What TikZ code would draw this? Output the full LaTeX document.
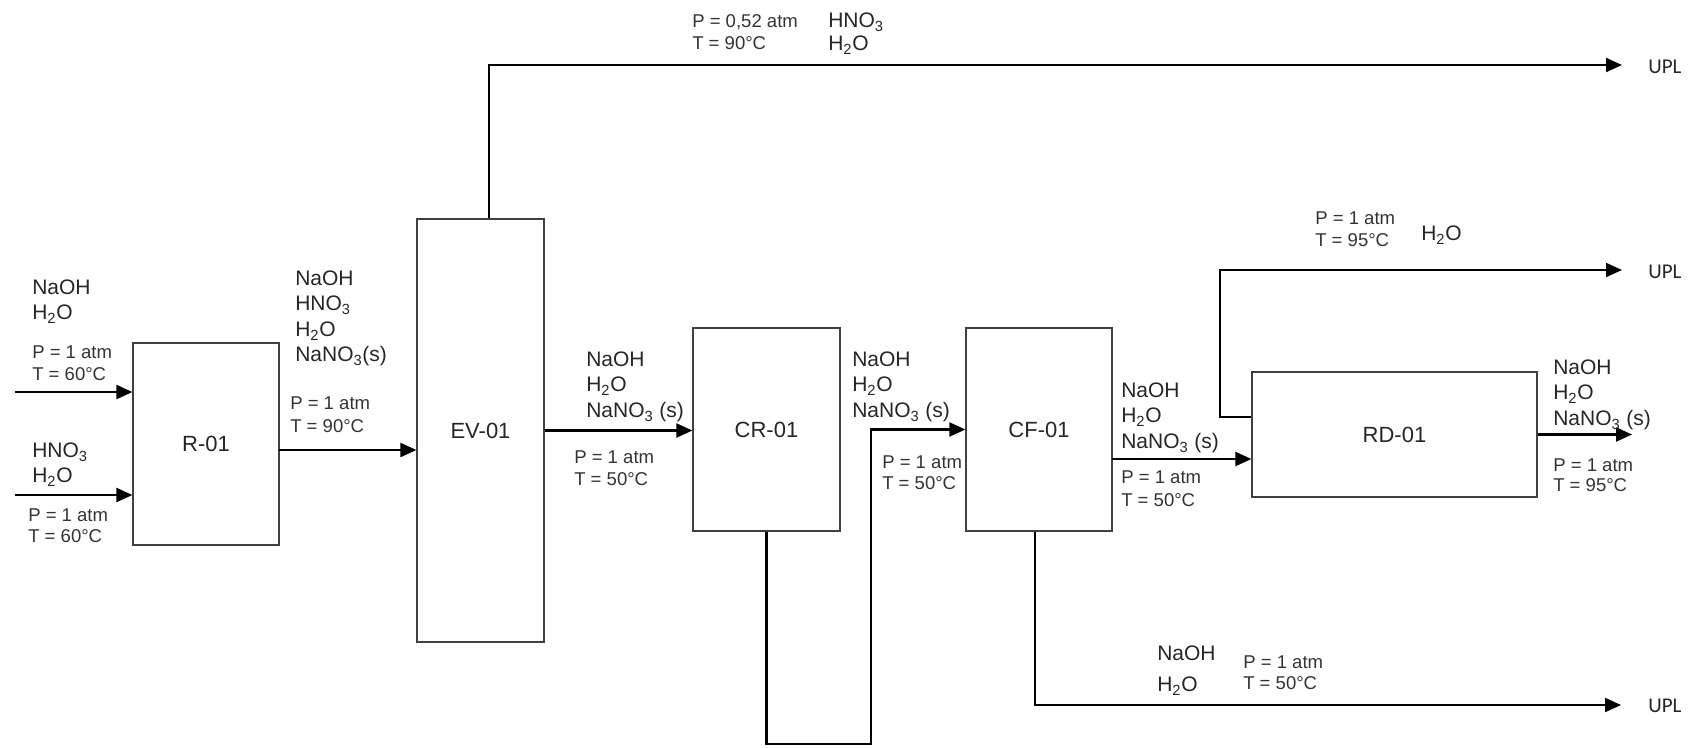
\documentclass[tikz,border=0pt]{standalone}
\usepackage{fontspec}
\setmainfont{Liberation Sans}
\newfontfamily\uplfont{Carlito}
\usetikzlibrary{arrows.meta}
\newcommand\chemfont{\fontsize{15.75pt}{19.1pt}\selectfont}
\newcommand\condfont{\fontsize{13.9pt}{16.5pt}\selectfont}
\newcommand\boxfont{\fontsize{16.5pt}{19pt}\selectfont}
\newcommand\lns[1]{\begin{tabular}[t]{@{}l@{}}#1\end{tabular}}
\newcommand\chsub[1]{\textsubscript{#1}}
\tikzset{
  box/.style={draw=black!75, line width=0.9pt, fill=white, inner sep=0pt, font=\boxfont, text=black!85},
  chem/.style={anchor=base west, inner sep=0pt, font=\chemfont, text=black!85},
  cond/.style={anchor=base west, inner sep=0pt, font=\condfont, text=black!80},
  arr/.style={line width=1.6pt, -{Triangle[length=12pt,width=10.5pt]}},
  upl/.style={anchor=west, inner sep=0pt, font=\uplfont\fontsize{15.75pt}{18pt}\selectfont, text=black!85}
}
\begin{document}
\begin{tikzpicture}[x=0.75pt, y=-0.75pt]
\useasboundingbox (0,0) rectangle (1695,747);

% units
\node[box, minimum width=109.5pt, minimum height=151.5pt] (r01) at (206,444) {R-01};
\node[box, minimum width=95.25pt, minimum height=317.25pt] (ev) at (480.5,430.5) {EV-01};
\node[box, minimum width=110.25pt, minimum height=152.25pt] (cr) at (766.5,429.5) {CR-01};
\node[box, minimum width=109.5pt, minimum height=152.25pt] (cf) at (1039,429.5) {CF-01};
\node[box, minimum width=213.75pt, minimum height=93.75pt] (rd) at (1394.5,434.5) {RD-01};

% helper coordinates
\coordinate (in1) at (15,392);
\coordinate (in2) at (15,495);
\coordinate (a1) at (279,450);
\coordinate (v1) at (489,65);
\coordinate (upl1) at (1622,65);
\coordinate (l2) at (871,744);
\coordinate (a2) at (1112,459);
\coordinate (v2b) at (1220,417);
\coordinate (v2) at (1220,270);
\coordinate (upl2) at (1622,270);
\coordinate (o1) at (1632,434.5);
\coordinate (b1) at (1035,705);
\coordinate (upl3) at (1621,705);

% connectors
\draw[arr] (in1) -- (in1 -| r01.west);
\draw[arr] (in2) -- (in2 -| r01.west);
\draw[arr] (a1) -- (a1 -| ev.west);
\draw[arr] (ev.north -| v1) -- (v1) -- (upl1);
\draw[arr] (ev.east) -- (ev.east -| cr.west);
\draw[arr] (cr.south) -- (cr.south |- l2) -- (l2) -- (l2 |- cf.west) -- (cf.west);
\draw[arr] (a2) -- (a2 -| rd.west);
\draw[arr] (v2b -| rd.west) -- (v2b) -- (v2) -- (upl2);
\draw[arr] (rd.east) -- (o1);
\draw[arr] (cf.south -| b1) -- (b1) -- (upl3);

% UPL labels
\node[upl] (u1) at (1648,67) {UPL};
\node[upl] (u2) at (1648,272) {UPL};
\node[upl] (u3) at (1648,706) {UPL};

% stream labels
\node[chem] (t1) at (32,294.5) {\lns{NaOH\\H\chsub{2}O}};
\node[cond] (c1) at (32,358.6) {\lns{P = 1 atm\\T = 60°C}};
\node[chem] (t2) at (32,457.5) {\lns{HNO\chsub{3}\\H\chsub{2}O}};
\node[cond, font=\fontsize{13.9pt}{15.8pt}\selectfont] (c2) at (28,521.6) {\lns{P = 1 atm\\T = 60°C}};

\node[chem] (t3) at (295,285.5) {\lns{NaOH\\HNO\chsub{3}\\H\chsub{2}O\\NaNO\chsub{3}(s)}};
\node[cond, font=\fontsize{13.9pt}{17.25pt}\selectfont] (c3) at (290,409.6) {\lns{P = 1 atm\\T = 90°C}};

\node[cond] (c4) at (692,27.6) {\lns{P = 0,52 atm\\T = 90°C}};
\node[chem, font=\fontsize{15.75pt}{17.25pt}\selectfont] (t4) at (828,27.5) {\lns{HNO\chsub{3}\\H\chsub{2}O}};

\node[chem] (t5) at (586,366.5) {\lns{NaOH\\H\chsub{2}O\\NaNO\chsub{3} (s)}};
\node[cond] (c5) at (574,463.6) {\lns{P = 1 atm\\T = 50°C}};

\node[chem] (t6) at (852,366.5) {\lns{NaOH\\H\chsub{2}O\\NaNO\chsub{3} (s)}};
\node[cond, font=\fontsize{13.9pt}{15.8pt}\selectfont] (c6) at (882,468.6) {\lns{P = 1 atm\\T = 50°C}};

\node[chem] (t7) at (1121,397.5) {\lns{NaOH\\H\chsub{2}O\\NaNO\chsub{3} (s)}};
\node[cond, font=\fontsize{13.9pt}{17.25pt}\selectfont] (c7) at (1121,483.6) {\lns{P = 1 atm\\T = 50°C}};

\node[cond] (c8) at (1315,224.6) {\lns{P = 1 atm\\T = 95°C}};
\node[chem] (t8) at (1421,240.5) {H\chsub{2}O};

\node[chem] (t9) at (1553,374.5) {\lns{NaOH\\H\chsub{2}O\\NaNO\chsub{3} (s)}};
\node[cond, font=\fontsize{13.9pt}{15pt}\selectfont] (c9) at (1553,471.6) {\lns{P = 1 atm\\T = 95°C}};

\node[chem, font=\fontsize{15.75pt}{23.25pt}\selectfont] (t10) at (1157,660.5) {\lns{NaOH\\H\chsub{2}O}};
\node[cond, font=\fontsize{13.9pt}{15.8pt}\selectfont] (c10) at (1243,668.6) {\lns{P = 1 atm\\T = 50°C}};
\end{tikzpicture}
\end{document}
